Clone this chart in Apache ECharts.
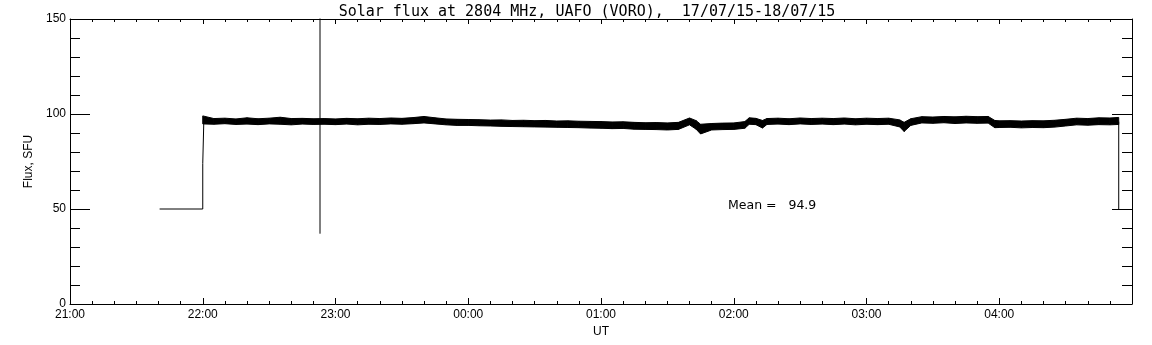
<!DOCTYPE html>
<html>
<head>
<meta charset="utf-8">
<script src="https://cdn.jsdelivr.net/npm/echarts@6/dist/echarts.min.js"></script>
<style>
  html, body { margin: 0; padding: 0; background: #fff; }
  #chart { width: 1152px; height: 345px; }
</style>
</head>
<body>
<div id="chart"></div>
<script>
// x axis: minutes after 21:00 UT (17/07/15), ticks every hour
const tickLabels = ['21:00', '22:00', '23:00', '00:00', '01:00', '02:00', '03:00', '04:00', '05:00'];

// quiet level before the receiver comes up, and the jump at 22:00
const stepTime = ['21:40:30', '22:00:00', '22:00:00', '22:00:30', '22:00:30'];
const stepValue = [50, 50, 74, 74, 97];

// single interference spike near 22:53 (goes off the top)
const spikeTime = ['22:53:00', '22:53:00'];
const spikeValue = [37, 160];

// end of record, drop back to 50
const endTime = ['04:54:00', '04:54:00'];
const endValue = [96, 50];

// noisy flux band, read as upper / lower envelope
const bandTime = [
  '22:00', '22:05', '22:10', '22:15', '22:20', '22:25', '22:30', '22:35', '22:40', '22:45',
  '22:50', '22:55', '23:00', '23:05', '23:10', '23:15', '23:20', '23:25', '23:30', '23:35',
  '23:40', '23:45', '23:50', '23:55', '00:00', '00:05', '00:10', '00:15', '00:20', '00:25',
  '00:30', '00:35', '00:40', '00:45', '00:50', '00:55', '01:00', '01:05', '01:10', '01:15',
  '01:20', '01:25', '01:30', '01:35', '01:40', '01:43', '01:45', '01:50', '01:55', '02:00',
  '02:05', '02:07', '02:10', '02:13', '02:15', '02:20', '02:25', '02:30', '02:35', '02:40',
  '02:45', '02:50', '02:55', '03:00', '03:05', '03:10', '03:15', '03:17', '03:20', '03:25',
  '03:30', '03:35', '03:40', '03:45', '03:50', '03:55', '03:58', '04:00', '04:05', '04:10',
  '04:15', '04:20', '04:25', '04:30', '04:35', '04:40', '04:45', '04:50', '04:54'
];
const bandHigh = [
  99.0, 97.6, 97.8, 97.4, 98.0, 97.5, 97.8, 98.3, 97.6, 97.7,
  97.5, 97.6, 97.4, 97.7, 97.5, 97.8, 97.6, 97.9, 97.7, 98.1,
  98.7, 98.0, 97.4, 97.2, 97.1, 97.0, 96.8, 96.9, 96.6, 96.7,
  96.5, 96.6, 96.3, 96.4, 96.2, 96.1, 96.0, 95.8, 95.9, 95.6,
  95.4, 95.5, 95.3, 95.6, 97.9, 96.5, 94.6, 95.0, 95.2, 95.3,
  96.0, 98.0, 97.7, 96.6, 97.6, 97.8, 97.5, 97.9, 97.6, 97.8,
  97.6, 97.9, 97.5, 97.8, 97.6, 97.8, 96.9, 95.6, 97.5, 98.6,
  98.4, 98.7, 98.5, 98.8, 98.6, 98.7, 96.6, 96.4, 96.5, 96.3,
  96.5, 96.4, 96.7, 97.2, 97.8, 97.6, 98.0, 97.9, 98.2
];
const bandLow = [
  94.8, 94.6, 94.9, 94.5, 94.7, 94.4, 94.8, 94.6, 94.3, 94.7,
  94.5, 94.6, 94.4, 94.7, 94.3, 94.6, 94.5, 94.8, 94.6, 94.9,
  95.3, 94.8, 94.3, 94.0, 94.0, 93.8, 93.7, 93.5, 93.4, 93.3,
  93.2, 93.1, 93.0, 92.9, 92.8, 92.6, 92.5, 92.3, 92.4, 92.0,
  91.9, 91.8, 91.6, 91.9, 94.3, 92.0, 89.5, 91.6, 91.8, 91.9,
  92.5, 94.6, 94.4, 92.6, 94.5, 94.7, 94.4, 94.8, 94.5, 94.7,
  94.4, 94.7, 94.3, 94.6, 94.4, 94.6, 93.2, 90.8, 94.0, 95.3,
  95.1, 95.4, 95.0, 95.3, 95.1, 95.2, 92.8, 92.9, 93.0, 92.7,
  92.9, 92.8, 93.1, 93.7, 94.3, 94.1, 94.4, 94.3, 94.5
];

const meanText = 'Mean =   94.9';

function toMin(t) {
  const p = t.split(':').map(Number);
  let h = p[0];
  if (h < 21) h += 24;
  return (h - 21) * 60 + p[1] + (p[2] || 0) / 60;
}
function pairs(times, values) {
  return times.map((t, i) => [toMin(t), values[i]]);
}

const font = 'Liberation Sans';
const chart = echarts.init(document.getElementById('chart'));

// one filled quad per segment between envelope points i and i+1
function renderBand(params, api) {
  const i = params.dataIndex;
  if (i >= bandTime.length - 1) return null;
  const t0 = toMin(bandTime[i]);
  const t1 = toMin(bandTime[i + 1]);
  const pts = [
    api.coord([t0, bandHigh[i]]),
    api.coord([t1, bandHigh[i + 1]]),
    api.coord([t1, bandLow[i + 1]]),
    api.coord([t0, bandLow[i]])
  ];
  return {
    type: 'polygon',
    shape: { points: pts },
    style: { fill: '#000', stroke: '#000', lineWidth: 1 }
  };
}

const hidden = { show: false };
const option = {
  backgroundColor: '#fff',
  animation: false,
  textStyle: { fontFamily: font, color: '#000' },
  title: {
    text: 'Solar flux at 2804 MHz, UAFO (VORO),  17/07/15-18/07/15',
    left: 582,
    textAlign: 'center',
    top: 0,
    textStyle: { fontFamily: 'DejaVu Sans Mono', fontSize: 15, fontWeight: 'normal', color: '#000' }
  },
  grid: { left: 70, right: 20, top: 19, bottom: 41, outerBoundsMode: 'none' },
  xAxis: [
    {
      type: 'value',
      min: 0,
      max: 480,
      interval: 60,
      name: 'UT',
      nameLocation: 'middle',
      nameGap: 19,
      nameTextStyle: { fontFamily: font, fontSize: 12, color: '#000' },
      axisLine: { show: true, onZero: false, lineStyle: { color: '#000', width: 1 } },
      axisTick: { show: true, inside: true, length: 6, lineStyle: { color: '#000' } },
      minorTick: { show: true, splitNumber: 6, length: 3, lineStyle: { color: '#000' } },
      splitLine: hidden,
      axisLabel: {
        show: true,
        margin: 5,
        fontFamily: font,
        fontSize: 12,
        color: '#000',
        showMaxLabel: false,
        formatter: (v) => tickLabels[Math.round(v / 60)]
      }
    },
    {
      type: 'value',
      position: 'top',
      min: 0,
      max: 480,
      interval: 60,
      axisLine: { show: true, onZero: false, lineStyle: { color: '#000', width: 1 } },
      axisTick: { show: true, inside: true, length: 5, lineStyle: { color: '#000' } },
      minorTick: { show: true, splitNumber: 6, length: 3, lineStyle: { color: '#000' } },
      splitLine: hidden,
      axisLabel: hidden
    }
  ],
  yAxis: [
    {
      type: 'value',
      min: 0,
      max: 150,
      interval: 50,
      name: 'Flux, SFU',
      nameLocation: 'middle',
      nameGap: 31,
      nameTextStyle: { fontFamily: font, fontSize: 12, color: '#000' },
      axisLine: { show: true, onZero: false, lineStyle: { color: '#000', width: 1 } },
      axisTick: { show: true, inside: true, length: 20, lineStyle: { color: '#000' } },
      minorTick: { show: true, splitNumber: 5, length: 10, lineStyle: { color: '#000' } },
      splitLine: hidden,
      axisLabel: { margin: 4, fontFamily: font, fontSize: 12, color: '#000', padding: [0, 0, 5, 0] }
    },
    {
      type: 'value',
      position: 'right',
      min: 0,
      max: 150,
      interval: 50,
      axisLine: { show: true, onZero: false, lineStyle: { color: '#000', width: 1 } },
      axisTick: { show: true, inside: true, length: 20, lineStyle: { color: '#000' } },
      minorTick: { show: true, splitNumber: 5, length: 10, lineStyle: { color: '#000' } },
      splitLine: hidden,
      axisLabel: hidden
    }
  ],
  series: [
    {
      name: 'step',
      type: 'line',
      data: pairs(stepTime, stepValue),
      showSymbol: false,
      lineStyle: { color: '#000', width: 1 }
    },
    {
      name: 'spike',
      type: 'line',
      data: pairs(spikeTime, spikeValue),
      showSymbol: false,
      clip: true,
      lineStyle: { color: '#000', width: 1 }
    },
    {
      name: 'end',
      type: 'line',
      data: pairs(endTime, endValue),
      showSymbol: false,
      lineStyle: { color: '#000', width: 1 }
    },
    {
      name: 'band',
      type: 'custom',
      renderItem: renderBand,
      clip: true,
      data: bandTime.map((t, i) => [toMin(t), bandLow[i], bandHigh[i]]),
      encode: { x: 0, y: [1, 2] }
    }
  ],
  graphic: [
    {
      type: 'text',
      left: 728,
      top: 199,
      style: { text: meanText, font: '12.5px "DejaVu Sans"', fill: '#000' }
    }
  ]
};
chart.setOption(option);
</script>
</body>
</html>
